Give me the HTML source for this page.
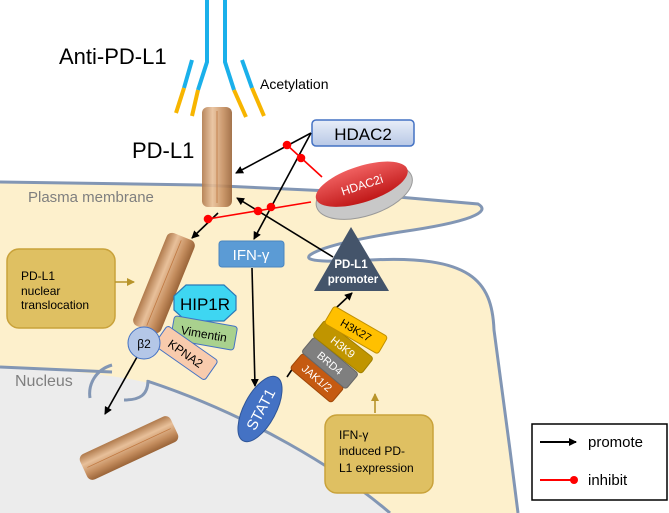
<!DOCTYPE html>
<html><head><meta charset="utf-8"><style>
html,body{margin:0;padding:0;background:#fff;}
svg{display:block;font-family:"Liberation Sans",sans-serif;}
</style></head><body>
<svg width="669" height="513" viewBox="0 0 669 513" xmlns="http://www.w3.org/2000/svg">
<defs>
<marker id="ar" markerWidth="8" markerHeight="8" refX="7" refY="4" orient="auto" markerUnits="userSpaceOnUse"><path d="M0,0 L8,4 L0,8 Z" fill="#000"/></marker>
<marker id="ag" markerWidth="8" markerHeight="8" refX="7" refY="4" orient="auto" markerUnits="userSpaceOnUse"><path d="M0,0 L8,4 L0,8 Z" fill="#b8942a"/></marker>
<linearGradient id="rod" x1="0" x2="1" y1="0" y2="0"><stop offset="0" stop-color="#b07a4c"/><stop offset="0.35" stop-color="#e8c09a"/><stop offset="0.7" stop-color="#c68f60"/><stop offset="1" stop-color="#9a6438"/></linearGradient>
<linearGradient id="hd" x1="0" x2="0" y1="0" y2="1"><stop offset="0" stop-color="#f06060"/><stop offset="1" stop-color="#c01818"/></linearGradient>
<linearGradient id="hb" x1="0" x2="0" y1="0" y2="1"><stop offset="0" stop-color="#e8eef8"/><stop offset="1" stop-color="#b8c8e6"/></linearGradient>
</defs>
<path d="M0,182 L200,185 L330,191 L478,204 C492,212 470,222 400,232 C350,240 320,248 310,255 C302,262 330,262 370,260 C470,255 492,280 494,330 L510,450 L518,513 L0,513 Z" fill="#fdf0cc"/>
<path d="M0,367 C60,370 130,375 165,388 C250,420 340,470 390,513 L0,513 Z" fill="#ececec"/>
<path d="M0,182 L200,185 L330,191 L478,204 C492,212 470,222 400,232 C350,240 320,248 310,255 C302,262 330,262 370,260 C470,255 492,280 494,330 L510,450 L518,513" fill="none" stroke="#8296b4" stroke-width="3"/>
<path d="M0,367 C60,370 105,372 112,372 M147,381 C250,415 340,470 390,513" fill="none" stroke="#8296b4" stroke-width="3"/>
<path d="M112,365 C95,370 88,385 90,398" fill="none" stroke="#8296b4" stroke-width="3"/>
<path d="M148,380 C148,395 140,400 124,400" fill="none" stroke="#8296b4" stroke-width="3"/>
<text x="28" y="202" font-size="15" fill="#7f7f7f">Plasma membrane</text>
<text x="15" y="386" font-size="16" fill="#7f7f7f">Nucleus</text>
<g stroke-width="4" fill="none">
<path d="M207,0 L207,62 L198,90" stroke="#1ab0ea"/><path d="M198,90 L192,116" stroke="#f7b500"/>
<path d="M192,60 L184,88" stroke="#1ab0ea"/><path d="M184,88 L176,113" stroke="#f7b500"/>
<path d="M225,0 L225,62 L234,90" stroke="#1ab0ea"/><path d="M234,90 L246,117" stroke="#f7b500"/>
<path d="M242,60 L252,88" stroke="#1ab0ea"/><path d="M252,88 L264,116" stroke="#f7b500"/>
</g>
<text x="59" y="64" font-size="22" fill="#000">Anti-PD-L1</text>
<text x="260" y="89" font-size="14" fill="#000">Acetylation</text>
<text x="132" y="158" font-size="22" fill="#000">PD-L1</text>
<g transform="translate(217,157)"><rect x="-15" y="-50" width="30" height="100" rx="6" fill="url(#rod)" opacity="0.9"/><line x1="0" y1="-46" x2="0" y2="46" stroke="#c07840" stroke-width="0.8"/></g>
<g transform="translate(164,283) rotate(22)"><rect x="-15" y="-50" width="30" height="100" rx="6" fill="url(#rod)"/><line x1="0" y1="-46" x2="0" y2="46" stroke="#c07840" stroke-width="0.8"/></g>
<g transform="translate(129,448) rotate(65)"><rect x="-14" y="-50" width="28" height="100" rx="6" fill="url(#rod)"/><line x1="0" y1="-46" x2="0" y2="46" stroke="#c07840" stroke-width="0.8"/></g>
<rect x="312" y="120" width="102" height="26" rx="4" fill="url(#hb)" stroke="#4472c4" stroke-width="1.5"/>
<text x="363" y="140" font-size="17" text-anchor="middle" fill="#000">HDAC2</text>
<g transform="translate(363,188) rotate(-18)"><ellipse cx="0" cy="4" rx="50" ry="24" fill="#c8c8c8" stroke="#999"/><ellipse cx="0" cy="-4" rx="48" ry="18" fill="url(#hd)"/><text x="0" y="1" font-size="12" fill="#fff" text-anchor="middle">HDAC2i</text></g>
<g stroke="#000" stroke-width="1.6" fill="none">
<line x1="311" y1="133" x2="236" y2="173" marker-end="url(#ar)"/>
<line x1="311" y1="133" x2="254" y2="239" marker-end="url(#ar)"/>
<line x1="333" y1="257" x2="237" y2="198" marker-end="url(#ar)"/>
<line x1="218" y1="213" x2="192" y2="238" marker-end="url(#ar)"/>
<line x1="252" y1="268" x2="255" y2="386" marker-end="url(#ar)"/>
<line x1="137" y1="357" x2="105" y2="414" marker-end="url(#ar)"/>
<line x1="287" y1="377" x2="293" y2="368"/>
<line x1="336" y1="308" x2="352" y2="293" marker-end="url(#ar)"/>
</g>
<g stroke="#ff0000" stroke-width="1.6" fill="#ff0000">
<line x1="322" y1="177" x2="287" y2="145"/>
<line x1="311" y1="202" x2="208" y2="219"/>
<circle cx="287" cy="145" r="3.5"/><circle cx="301" cy="158" r="3.5"/>
<circle cx="208" cy="219" r="3.5"/><circle cx="258" cy="211" r="3.5"/><circle cx="271" cy="207" r="3.5"/>
</g>
<rect x="219" y="241" width="65" height="26" rx="3" fill="#5b9bd5" stroke="#4a86c0"/>
<text x="251" y="260" font-size="15" fill="#fff" text-anchor="middle">IFN-γ</text>
<path d="M351,227 L389,291 L314,291 Z" fill="#44546a"/>
<text x="351" y="268" font-size="11.5" font-weight="bold" fill="#fff" text-anchor="middle">PD-L1</text>
<text x="353" y="283" font-size="11.5" font-weight="bold" fill="#fff" text-anchor="middle">promoter</text>
<rect x="7" y="249" width="108" height="79" rx="12" fill="#dfc062" stroke="#c9a23a" stroke-width="1.5"/>
<text x="21" y="280" font-size="12" fill="#000">PD-L1</text>
<text x="21" y="295" font-size="12" fill="#000">nuclear</text>
<text x="21" y="309" font-size="12" fill="#000">translocation</text>
<line x1="115" y1="282" x2="134" y2="282" stroke="#b8942a" stroke-width="1.6" marker-end="url(#ag)"/>
<path d="M186,285 L224,285 L236,296 L236,310 L224,321 L186,321 L174,310 L174,296 Z" fill="#3ed6f2" stroke="#2a7ab8" stroke-width="1.2"/>
<text x="205" y="310" font-size="17" text-anchor="middle" fill="#000">HIP1R</text>
<g transform="translate(204,333) rotate(10)"><rect x="-32" y="-12" width="64" height="24" rx="3" fill="#a9d18e" stroke="#4472c4"/><text x="0" y="5" font-size="12" text-anchor="middle">Vimentin</text></g>
<g transform="translate(186,353) rotate(35)"><rect x="-31" y="-12" width="62" height="24" rx="3" fill="#f8cbad" stroke="#4472c4"/><text x="0" y="5" font-size="12" text-anchor="middle">KPNA2</text></g>
<circle cx="144" cy="343" r="16" fill="#b4c7e7" stroke="#4472c4"/>
<text x="144" y="348" font-size="12" text-anchor="middle">β2</text>
<g transform="translate(260,409) rotate(-62)"><ellipse rx="36" ry="16" fill="#4472c4" stroke="#2f5597"/><text x="0" y="6" font-size="15" fill="#fff" text-anchor="middle">STAT1</text></g>
<g transform="translate(317,378) rotate(40)"><rect x="-27" y="-10" width="54" height="20" rx="3" fill="#c55a11" stroke="#a04808"/><text x="0" y="4" font-size="11" fill="#fff" text-anchor="middle">JAK1/2</text></g>
<g transform="translate(330,363) rotate(40)"><rect x="-29" y="-10" width="58" height="20" rx="3" fill="#7f7f7f" stroke="#666"/><text x="0" y="4" font-size="11" fill="#fff" text-anchor="middle">BRD4</text></g>
<g transform="translate(343,347) rotate(38)"><rect x="-31" y="-10" width="62" height="20" rx="3" fill="#c09500" stroke="#a08000"/><text x="0" y="4" font-size="11" fill="#fff" text-anchor="middle">H3K9</text></g>
<g transform="translate(356,330) rotate(30)"><rect x="-31" y="-10" width="62" height="20" rx="3" fill="#ffc000" stroke="#c09000"/><text x="0" y="4" font-size="11" fill="#000" text-anchor="middle">H3K27</text></g>
<rect x="325" y="415" width="108" height="78" rx="12" fill="#dfc062" stroke="#c9a23a" stroke-width="1.5"/>
<text x="339" y="439" font-size="12" fill="#000">IFN-γ</text>
<text x="339" y="455" font-size="12" fill="#000">induced PD-</text>
<text x="339" y="472" font-size="12" fill="#000">L1 expression</text>
<line x1="375" y1="413" x2="375" y2="394" stroke="#b8942a" stroke-width="1.6" marker-end="url(#ag)"/>
<rect x="532" y="424" width="135" height="76" fill="#fff" stroke="#000" stroke-width="1.5"/>
<line x1="540" y1="442" x2="576" y2="442" stroke="#000" stroke-width="2" marker-end="url(#ar)"/>
<text x="588" y="447" font-size="15" fill="#000">promote</text>
<line x1="540" y1="480" x2="574" y2="480" stroke="#ff0000" stroke-width="2"/>
<circle cx="574" cy="480" r="4" fill="#ff0000"/>
<text x="588" y="485" font-size="15" fill="#000">inhibit</text>
</svg>
</body></html>
